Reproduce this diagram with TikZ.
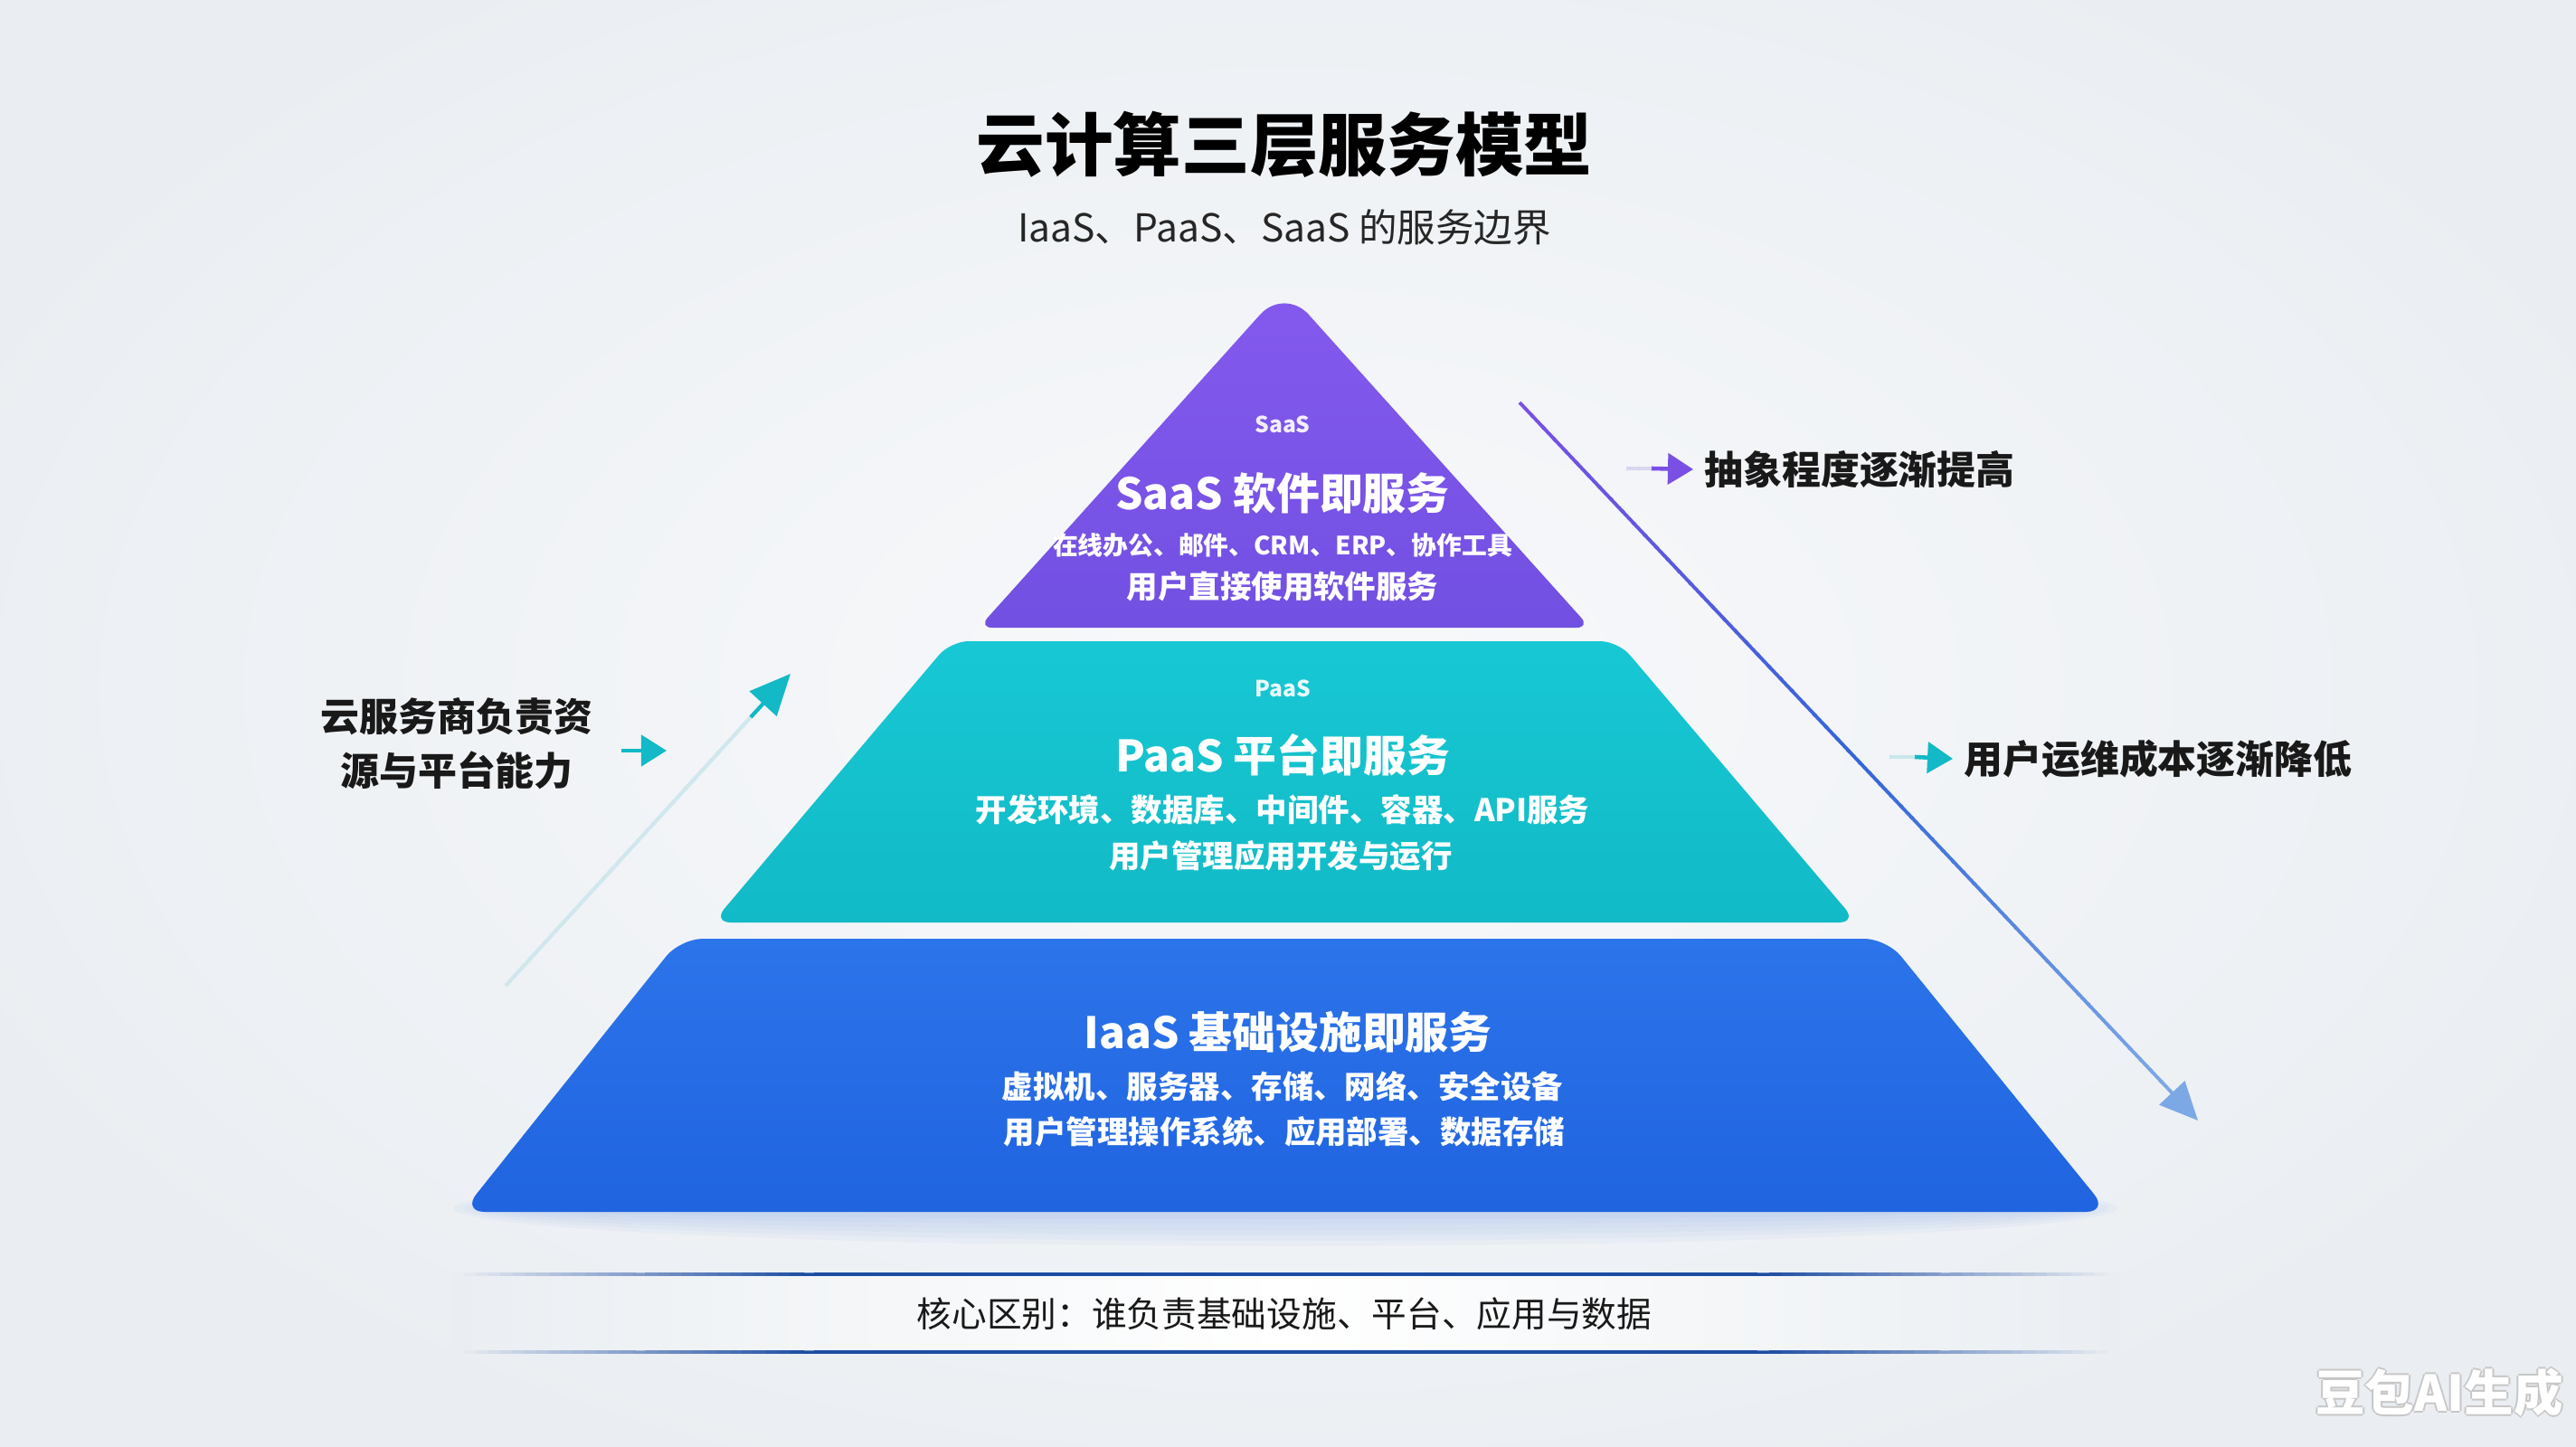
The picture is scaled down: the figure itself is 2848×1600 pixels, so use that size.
\documentclass[tikz,border=0pt]{standalone}
\usepackage{fontspec}
\setmainfont{Noto Sans CJK SC}
\usetikzlibrary{arrows.meta,calc}

\definecolor{bgout}{HTML}{EAEEF2}
\definecolor{bgin}{HTML}{F8F9FB}
\definecolor{saastop}{HTML}{8459EE}
\definecolor{saasbot}{HTML}{7150E2}
\definecolor{paastop}{HTML}{17C8D4}
\definecolor{paasbot}{HTML}{11BAC6}
\definecolor{iaastop}{HTML}{2C74EA}
\definecolor{iaasbot}{HTML}{2064E0}
\definecolor{tealarr}{HTML}{13B9C6}
\definecolor{purparr}{HTML}{7A4FE4}
\definecolor{bluearr}{HTML}{3566DA}
\definecolor{lightarr}{HTML}{7DA8E6}
\definecolor{bandline}{HTML}{1D4DA3}

% line from #1 to #2, colour #3 -> #4, width #5
\newcommand{\fadeline}[5]{%
  \foreach \k in {0,...,29}{%
    \pgfmathtruncatemacro\pp{round(100*\k/29)}%
    \pgfmathsetmacro\ka{\k/30}%
    \pgfmathsetmacro\kb{(\k+1.2)/30}%
    \draw[line width=#5,#4!\pp!#3] ($(#1)!\ka!(#2)$) -- ($(#1)!\kb!(#2)$);
  }}

\begin{document}
\begin{tikzpicture}[x=0.01cm,y=-0.01cm,
  tag/.style={text=white,text opacity=0.9,font=\fontsize{7}{8}\selectfont\bfseries},
  layername/.style={text=white,font=\fontsize{13.6}{16}\selectfont\bfseries},
  layerline/.style={text=white,font=\fontsize{9.8}{12}\selectfont\bfseries},
  note/.style={text=black!90,font=\fontsize{12.2}{17}\selectfont\bfseries},
  smallhead/.style={-{Triangle[length=0.28cm,width=0.34cm]}}
]
  \useasboundingbox (0,0) rectangle (2848,1600);
  \clip (0,0) rectangle (2848,1600);
  \fill[bgout] (0,0) rectangle (2848,1600);
  \shade[inner color=bgin,outer color=bgout] (1424,760) ellipse [x radius=1600,y radius=950];

  \node[font=\fontsize{21.5}{26}\selectfont\bfseries] (title) at (1420,160) {云计算三层服务模型};
  \node[font=\fontsize{12.1}{15}\selectfont,text=black!85] (subtitle) at (1420,251) {IaaS、PaaS、SaaS 的服务边界};

  % glow under the bottom layer
  \foreach \r in {1,...,6}
    \fill[iaasbot,opacity=0.03] (1421,1336) ellipse [x radius={860+10*\r},y radius={6+6*\r}];

  % layers
  \shade[top color=saastop,bottom color=saasbot,rounded corners=0.15cm]
    (1420,694) -- (1082,694) [rounded corners=0.4cm] -- (1420,318) [rounded corners=0.15cm] -- (1758,694) -- cycle;
  \shade[top color=paastop,bottom color=paasbot,rounded corners=0.2cm]
    (1420,1020) -- (788,1020) -- (1051,709) -- (1789,709) -- (2053,1020) -- cycle;
  \shade[top color=iaastop,bottom color=iaasbot,rounded corners=0.25cm]
    (1421,1340) -- (511,1340) -- (752,1038) -- (2086,1038) -- (2331,1340) -- cycle;

  \node[tag] (saas-tag) at (1418,469) {SaaS};
  \node[layername] (saas-name) at (1418,545) {SaaS 软件即服务};
  \node[layerline,font=\fontsize{7.9}{10}\selectfont\bfseries] (saas-items) at (1418,603) {在线办公、邮件、CRM、ERP、协作工具};
  \node[layerline] (saas-user) at (1418,648) {用户直接使用软件服务};

  \node[tag] (paas-tag) at (1418,761) {PaaS};
  \node[layername] (paas-name) at (1418,835) {PaaS 平台即服务};
  \node[layerline] (paas-items) at (1418,895) {开发环境、数据库、中间件、容器、API服务};
  \node[layerline] (paas-user) at (1416,946) {用户管理应用开发与运行};

  \node[layername] (iaas-name) at (1424,1141) {IaaS 基础设施即服务};
  \node[layerline] (iaas-items) at (1418,1201) {虚拟机、服务器、存储、网络、安全设备};
  \node[layerline] (iaas-user) at (1420,1251) {用户管理操作系统、应用部署、数据存储};

  % left side
  \node[note,align=center] (left-note) at (505,822) {云服务商负责资\\源与平台能力};
  \coordinate (lsa) at (687,830);
  \coordinate (lsb) at (737,830);
  \draw[smallhead,tealarr,line width=1.3pt] (lsa) -- (lsb);
  \coordinate (up-s) at (559,1090);
  \coordinate (up-m) at (830,793);
  \coordinate (up-e) at (874,745);
  \fadeline{up-s}{up-m}{tealarr!12!bgout}{tealarr}{1.2pt}
  \draw[-{Triangle[length=0.45cm,width=0.4cm]},tealarr,line width=1.2pt] (up-m) -- (up-e);

  % right side
  \coordinate (dn-s) at (1680,445);
  \coordinate (dn-m) at (2055,842);
  \coordinate (dn-n) at (2400,1207);
  \coordinate (dn-e) at (2430,1239);
  \fadeline{dn-s}{dn-m}{purparr}{bluearr}{1.1pt}
  \fadeline{dn-m}{dn-n}{bluearr}{lightarr}{1.1pt}
  \draw[-{Triangle[length=0.42cm,width=0.38cm]},lightarr,line width=1.1pt] (dn-n) -- (dn-e);

  \node[note,anchor=west] (abs-note) at (1872,519) {抽象程度逐渐提高};
  \coordinate (abs-a) at (1798,518);
  \coordinate (abs-m) at (1826,518);
  \fadeline{abs-a}{abs-m}{purparr!15!bgout}{purparr}{1.3pt}
  \draw[smallhead,purparr,line width=1.3pt] (abs-m) -- (abs-note.west);

  \node[note,anchor=west] (cost-note) at (2159,839) {用户运维成本逐渐降低};
  \coordinate (cost-a) at (2089,837);
  \coordinate (cost-m) at (2117,837);
  \fadeline{cost-a}{cost-m}{tealarr!15!bgout}{tealarr}{1.3pt}
  \draw[smallhead,tealarr,line width=1.3pt] (cost-m) -- (cost-note.west);

  % bottom band
  \shade[left color=bgout,right color=bgout,middle color=white] (500,1411) rectangle (2343,1493);
  \coordinate (bt-l) at (500,1409);
  \coordinate (bt-a) at (900,1409);
  \coordinate (bt-b) at (1943,1409);
  \coordinate (bt-r) at (2343,1409);
  \coordinate (bb-l) at (500,1495);
  \coordinate (bb-a) at (900,1495);
  \coordinate (bb-b) at (1943,1495);
  \coordinate (bb-r) at (2343,1495);
  \fadeline{bt-l}{bt-a}{bgout}{bandline}{1pt}
  \draw[bandline,line width=1pt] (bt-a) -- (bt-b);
  \fadeline{bt-b}{bt-r}{bandline}{bgout}{1pt}
  \fadeline{bb-l}{bb-a}{bgout}{bandline}{1pt}
  \draw[bandline,line width=1pt] (bb-a) -- (bb-b);
  \fadeline{bb-b}{bb-r}{bandline}{bgout}{1pt}
  \node[font=\fontsize{11}{13}\selectfont,text=black!90] (key-diff) at (1420,1453) {核心区别：谁负责基础设施、平台、应用与数据};

  % watermark
  \foreach \i/\dx/\dy in {1/-2/0,2/2/0,3/0/-2,4/0/2}
    \node[font=\fontsize{15.5}{18}\selectfont\bfseries,text=black!22] (mark-\i) at (2697+\dx,1540+\dy) {豆包AI生成};
  \node[font=\fontsize{15.5}{18}\selectfont\bfseries,text=white] (mark) at (2697,1540) {豆包AI生成};
\end{tikzpicture}
\end{document}
